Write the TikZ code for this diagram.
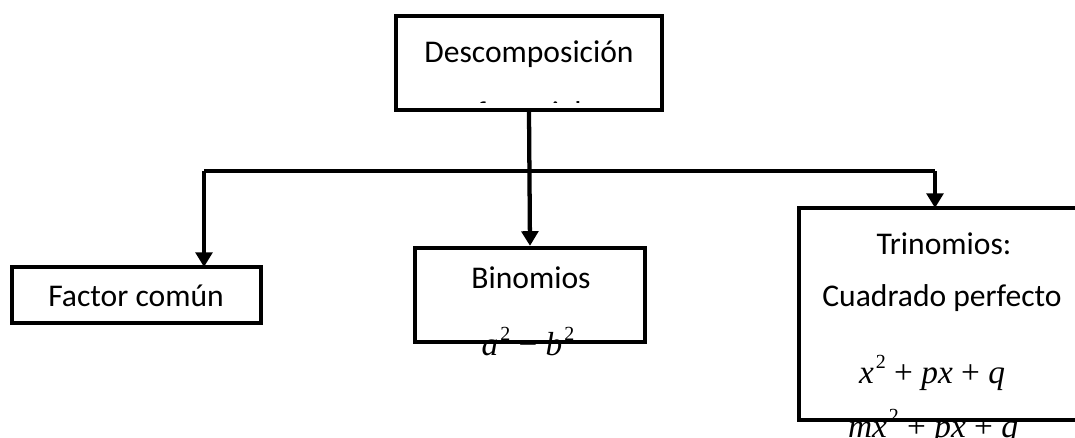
\documentclass[tikz,border=0pt]{standalone}
\usepackage{fontspec}
\setmainfont{Carlito}
\newfontfamily\eqfont{Liberation Serif}
\usetikzlibrary{arrows.meta}

% formula helpers: italic variables, upright operators, raised exponent
\newcommand\ev[1]{\textit{#1}}
\newcommand\sqr{\hspace{0.06em}\raisebox{0.45em}{\fontsize{15}{15}\selectfont 2}}
\newcommand\op[1]{\hspace{0.25em}#1\hspace{0.25em}}

\tikzset{
  box/.style={draw=black, line width=3.2pt, inner sep=0pt, rectangle},
  sz/.style 2 args={minimum width=#1*0.75pt, minimum height=#2*0.75pt},
  label/.style={inner sep=0pt, anchor=base, font=\fontsize{23.7}{28}\selectfont},
  eq/.style={inner sep=0pt, anchor=base, font=\eqfont\fontsize{25}{30}\selectfont},
  link/.style={line width=3.2pt},
  arr/.style={line width=3.2pt, -{Triangle[length=11pt,width=12.5pt]}},
}

\begin{document}
\begin{tikzpicture}[x=0.75pt, y=-0.75pt]
\useasboundingbox[fill=white] (0,0) rectangle (1075,438);

% labels
\node[label] (tDesc) at (529,63) {Descomposición};
\begin{scope}
  % the second line of the title overflows the box and is cut off
  \clip (398,18) rectangle (660,103);
  \node[label] (tFact) at (529,124) {factorial};
\end{scope}
\node[label] (tFc)   at (136,307) {Factor común};
\node[label] (tBin)  at (531,289) {Binomios};
\node[eq]    (eBin)  at (528,355) {\ev{a}\sqr\op{−}\ev{b}\sqr};
\node[label] (tTri)  at (944,255) {Trinomios:};
\node[label] (tCua)  at (942,307) {Cuadrado perfecto};
\node[eq]    (eTri1) at (932,383) {\ev{x}\sqr\op{+}\ev{px}\op{+}\ev{q}};
\node[eq]    (eTri2) at (933,437) {\ev{mx}\sqr\op{+}\ev{px}\op{+}\ev{q}};

% boxes
\node[box, sz={266}{94}]  (top) at (529,63)    {};
\node[box, sz={249}{56}]  (fc)  at (136.5,295) {};
\node[box, sz={230}{94}]  (bin) at (530,295)   {};
\node[box, sz={291}{212}] (tri) at (944.5,314) {};

% connectors
\coordinate (j)    at (529,171);
\coordinate (jl)   at (204,171);
\coordinate (jr)   at (935,171);
\coordinate (fcin) at (204,267);
\coordinate (trin) at (935,208);

\draw[arr] (top.south) -- (bin.north);
\draw[link] (jl) -- (jr);
\draw[arr] (jl) -- (fcin);
\draw[arr] (jr) -- (trin);
\end{tikzpicture}
\end{document}
